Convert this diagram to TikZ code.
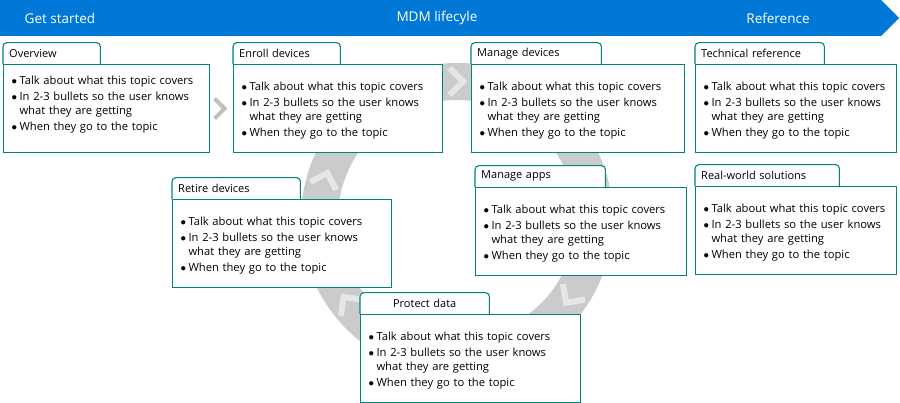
\documentclass[tikz,border=0pt]{standalone}
\usepackage{fontspec}
\setmainfont{Open Sans}
\usetikzlibrary{positioning,calc}
\definecolor{MSblue}{HTML}{0078D7}
\definecolor{MSteal}{HTML}{00857A}
\definecolor{ringgray}{HTML}{CBCBCB}
\definecolor{chevgray}{HTML}{E6E6E6}

\newcommand{\topicdot}{$\bullet$\hspace{2.5pt}}
\newcommand{\topicbullets}{%
  \topicdot Talk about what this topic covers\\[2pt]
  \topicdot In 2-3 bullets so the user knows\\
  \hphantom{\topicdot}what they are getting\\[2pt]
  \topicdot When they go to the topic}
\newcommand{\topictext}[1][c]{\parbox[c][74pt][#1]{\linewidth}{\vspace*{4pt}\topicbullets}}

\begin{document}
\begin{tikzpicture}[x=1pt,y=-1pt,
    topic/.style={rectangle,draw=MSteal,line width=1.1pt,fill=white,anchor=north west,
                  minimum height=88pt,inner xsep=8pt,inner ysep=0pt,align=left,
                  font=\fontsize{11.2}{14}\selectfont},
    tabbox/.style={rectangle,fill=white,minimum height=21pt,inner xsep=6pt,inner ysep=0pt,
                   align=left,font=\fontsize{11}{14}\selectfont},
    tabline/.style={draw=MSteal,line width=1.1pt,rounded corners=4pt},
    stage/.style={text=white,font=\fontsize{13.5}{16}\selectfont},
    chev/.style={line width=6pt,chevgray},
    gchev/.style={line width=4pt,gray!50},
  ]
  \useasboundingbox (0,0) rectangle (900,403);

  % banner
  \fill[MSblue] (0,0) -- (881,0) -- (899,18) -- (881,36) -- (0,36) -- cycle;
  \node[stage] (getstarted) at (60,18)  {Get started};
  \node[stage] (lifecycle)  at (437,18) {MDM lifecyle};
  \node[stage] (reference)  at (778,18) {Reference};

  % lifecycle ring
  \coordinate (ringc) at (457,219);
  \draw[ringgray,line width=37pt] (ringc) circle[radius=137.5pt];
  \foreach \a in {90,163,217,325}{
    \coordinate (tip) at ($(ringc)+(\a:137.5pt)+(\a-90:6pt)$);
    \draw[chev] ($(tip)+(\a+135:19pt)$) -- (tip) -- ($(tip)+(\a+45:19pt)$);
  }

  % topics
  \node[topic,text width=190pt] (overview)   at (3,64)    {\topictext[t]};
  \node[topic,text width=193pt] (enroll)     at (233,64)  {\topictext};
  \node[topic,text width=197pt] (managedev)  at (471,64)  {\topictext};
  \node[topic,text width=185pt] (techref)    at (695,64)  {\topictext};
  \node[topic,text width=203pt] (retire)     at (172,199) {\topictext};
  \node[topic,text width=195pt] (manageapps) at (475,187) {\topictext};
  \node[topic,text width=185pt] (realworld)  at (695,186) {\topictext};
  \node[topic,text width=204pt] (protect)    at (360,314) {\topictext};

  \node[tabbox,text width=85pt, above right=0pt of overview.north west]   (overviewtab)   {Overview};
  \node[tabbox,text width=95pt, above right=0pt of enroll.north west]     (enrolltab)     {Enroll devices};
  \node[tabbox,text width=118pt,above right=0pt of managedev.north west]  (managedevtab)  {Manage devices};
  \node[tabbox,text width=117pt,above right=0pt of techref.north west]    (techreftab)    {Technical reference};
  \node[tabbox,text width=116pt,above right=0pt of retire.north west]     (retiretab)     {Retire devices};
  \node[tabbox,text width=118pt,above right=0pt of manageapps.north west] (manageappstab) {Manage apps};
  \node[tabbox,text width=132pt,above right=0pt of realworld.north west]  (realworldtab)  {Real-world solutions};
  \node[tabbox,text width=117pt,align=center,above right=0pt of protect.north west] (protecttab) {Protect data};

  \foreach \t in {overviewtab,enrolltab,managedevtab,techreftab,
                  retiretab,manageappstab,realworldtab,protecttab}
    \draw[tabline] (\t.south west) |- (\t.north) -| (\t.south east);

  \draw[gchev] ($(overview.east)!0.5!(enroll.west)+(-7,-10)$) -- ++(10,10) -- ++(-10,10);
\end{tikzpicture}
\end{document}
